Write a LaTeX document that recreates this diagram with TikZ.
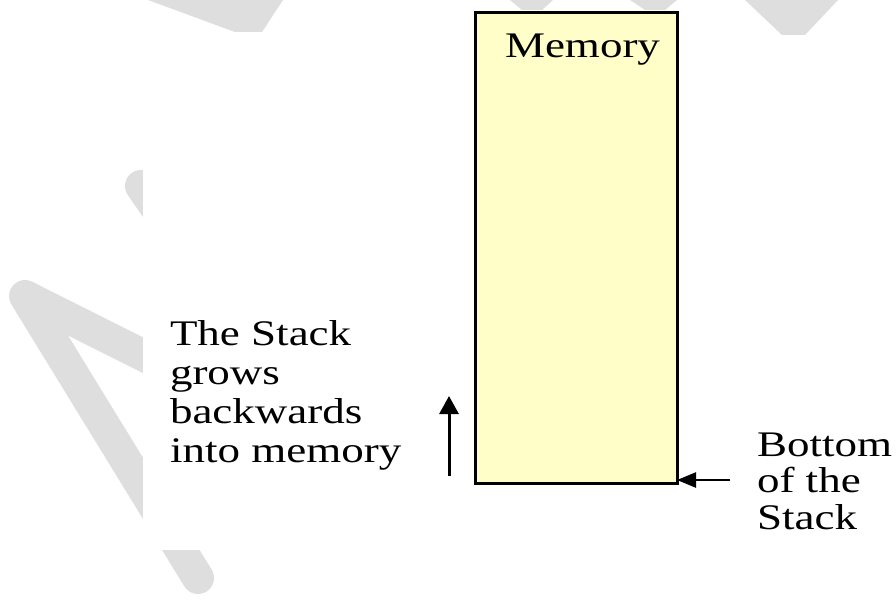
\documentclass[tikz,border=0pt]{standalone}
\usepackage{fontspec}
\setmainfont{Liberation Serif}
\usepackage{graphicx}
\usetikzlibrary{arrows.meta}
\definecolor{memfill}{RGB}{255,253,200}
\definecolor{wmark}{RGB}{222,222,222}
\tikzset{
  membox/.style={draw=black, line width=3pt, fill=memfill, rectangle, inner sep=0pt, outer sep=0pt},
  lbl/.style={inner sep=0pt, outer sep=0pt, font=\fontsize{36}{38}\selectfont},
  uparr/.style={line width=3pt, -{Triangle[length=18pt,width=19pt]}},
  leftarr/.style={line width=2.5pt, -{Triangle[length=19pt,width=15pt]}},
  wm/.style={draw=wmark, line width=32pt, line cap=round, line join=round},
  wmf/.style={fill=wmark, draw=none}
}
\newcommand{\stretchtxt}[1]{\scalebox{1.25}[1]{#1}}
\begin{document}
\begin{tikzpicture}[x=1pt,y=-1pt]
\useasboundingbox (0,0) rectangle (896,602);
\fill[white] (0,0) rectangle (896,602);
% watermark strokes (behind the white content area)
\draw[wm] (198,578) -- (25,296) -- (300,434);
\draw[wm] (220,300) -- (141,186);
\fill[white] (143,10) rectangle (896,550);
% top watermark fragments
\fill[wmf] (148,0) -- (283,0) -- (262,32) -- (235,32) -- cycle;
\fill[wmf] (510,0) -- (553,0) -- (542,10) -- (522,10) -- cycle;
\fill[wmf] (630,0) -- (677,0) -- (665,10) -- (645,10) -- cycle;
\fill[wmf] (745,0) -- (838,0) -- (805,35) -- (782,35) -- cycle;
% diagram
\node[membox, anchor=north west, minimum width=202pt, minimum height=470pt] (mem) at (475,13) {};
\node[lbl, anchor=base west] (memtxt) at (505,57) {\stretchtxt{Memory}};
\node[lbl, anchor=base west, font=\fontsize{36}{39}\selectfont] (grow) at (170,345) {\stretchtxt{\begin{tabular}[t]{@{}l@{}}The Stack\\grows\\backwards\\into memory\end{tabular}}};
\node[lbl, anchor=base west, font=\fontsize{36}{36.5}\selectfont] (bot) at (757,456) {\stretchtxt{\begin{tabular}[t]{@{}l@{}}Bottom\\of the\\Stack\end{tabular}}};
\coordinate (upS) at (449,476);
\coordinate (upE) at (449,396);
\coordinate (botS) at (730,480);
\draw[uparr] (upS) -- (upE);
\draw[leftarr] (botS) -- ([yshift=3pt]mem.south east);
\end{tikzpicture}
\end{document}
